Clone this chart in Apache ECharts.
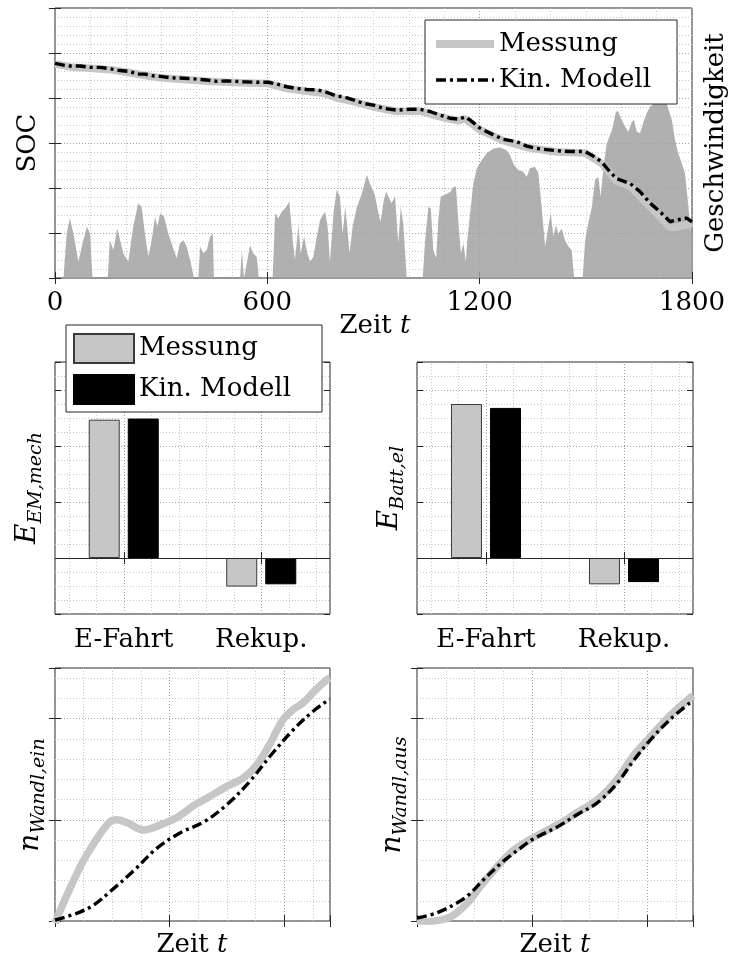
<!DOCTYPE html>
<html>
<head>
<meta charset="utf-8">
<script src="https://cdn.jsdelivr.net/npm/echarts@6/dist/echarts.min.js"></script>
<style>
  html, body { margin: 0; padding: 0; background: #fff; }
  #main { width: 737px; height: 965px; }
</style>
</head>
<body>
<div id="main"></div>
<script>
// ---- data ----
// SOC (left axis) and speed (right axis) over time, top panel
var socTime = [0,24,42,71,99,127,155,184,212,231,254,278,297,325,363,400,429,457,485,532,570,603,626,655,683,711,740,763,777,796,815,843,871,900,928,966,1003,1031,1060,1088,1116,1140,1159,1173,1201,1239,1267,1305,1333,1361,1380,1418,1455,1498,1521,1545,1568,1587,1625,1653,1682,1710,1738,1757,1785,1800];
var socModell = [4.77,4.73,4.71,4.71,4.68,4.68,4.65,4.61,4.59,4.53,4.53,4.49,4.48,4.45,4.44,4.42,4.40,4.37,4.38,4.36,4.35,4.35,4.31,4.25,4.21,4.19,4.18,4.14,4.10,4.04,4.03,3.96,3.88,3.84,3.77,3.73,3.75,3.75,3.70,3.62,3.55,3.53,3.58,3.51,3.33,3.18,3.08,3.03,2.93,2.88,2.86,2.83,2.81,2.81,2.71,2.58,2.36,2.21,2.10,1.92,1.66,1.47,1.25,1.29,1.33,1.25];
var socMessTime = [0,42,99,155,212,254,297,363,429,485,570,603,655,711,763,796,843,900,966,1031,1088,1140,1159,1201,1267,1333,1418,1498,1545,1587,1625,1682,1738,1757,1785,1800];
var socMessung = [4.76,4.69,4.66,4.63,4.56,4.50,4.45,4.41,4.37,4.35,4.33,4.32,4.21,4.15,4.10,4.00,3.92,3.80,3.70,3.71,3.58,3.49,3.54,3.29,3.05,2.90,2.80,2.78,2.54,2.15,2.04,1.58,1.13,1.13,1.18,1.22];

var speedTime = [
  0,24,33,42,52,66,80,90,99,106,
  149,155,165,176,184,193,207,221,235,245,254,264,273,283,289,297,308,320,334,344,353,363,372,382,393,
  405,410,419,429,438,446,449,
  523,528,534,542,551,560,570,576,
  615,622,631,641,653,662,672,678,688,694,704,713,721,730,738,749,763,770,777,787,796,805,813,820,826,832,841,853,867,881,890,904,914,920,929,936,942,951,961,970,977,984,994,
  1039,1046,1055,1062,1069,1077,1083,1090,1099,1109,1118,1126,1133,1140,1147,1154,1161,1165,1173,1182,1192,1206,1220,1239,1258,1276,1286,1297,1309,1323,1333,1342,1356,1366,1375,1385,1394,1401,1408,1416,1422,1432,1441,1451,1460,1467,
  1491,1498,1507,1517,1526,1535,1542,1550,1559,1574,1585,1592,1599,1611,1620,1630,1636,1644,1653,1663,1672,1682,1691,1710,1729,1743,1752,1761,1771,1780,1787,1795,1800
];
var speedValue = [
  0,0,0.99,1.33,0.99,0.36,0.84,1.14,0.99,0,
  0,0.84,0.62,1.10,0.84,0.55,0.36,1.14,1.66,1.58,0.99,0.47,0.84,1.36,1.14,1.44,1.36,0.99,0.66,0.44,0.77,0.84,0.70,0.40,0,
  0,0.70,0.55,0.62,0.92,0.99,0,
  0,0.62,0,0.33,0.73,0.55,0.47,0,
  0,1.44,1.33,1.47,1.58,1.70,0.84,0.40,1.18,0.55,0.92,0.55,0.36,0.47,0.84,1.29,1.47,1.18,0.36,1.44,1.96,1.81,0.99,1.58,1.14,0.55,1.14,1.58,1.88,2.29,2.10,1.84,1.44,1.25,1.73,1.92,1.81,1.66,1.81,0.77,1.58,1.22,0,
  0,0.84,1.58,1.55,0.62,0.44,1.29,1.81,1.84,1.88,1.92,2.03,2.03,1.22,0.55,0.77,0.36,0.84,1.44,2.10,2.44,2.62,2.77,2.88,2.90,2.84,2.73,2.51,2.40,2.36,2.25,2.44,2.47,2.33,1.58,0.70,1.14,1.44,0.92,1.18,0.99,1.10,0.84,0.70,0.62,0,
  0,0.84,1.22,1.58,2.18,2.25,1.81,2.47,2.99,3.29,3.70,3.70,3.55,3.36,3.25,3.47,3.51,3.25,3.22,3.47,3.66,3.81,3.86,3.90,3.86,3.51,3.07,2.77,2.55,2.33,1.81,1.14,0.92
];

// energy bars, middle panels
var barCategories = ['E-Fahrt', 'Rekup.'];
var emMessung = [2.47, -0.51];
var emModell = [2.49, -0.47];
var battMessung = [2.75, -0.47];
var battModell = [2.68, -0.43];

// converter speeds, bottom panels
var einMessTime = [0,0.11,0.25,0.40,0.48,0.54,0.63,0.77,0.92,1.06,1.21,1.35,1.50,1.64,1.76,1.88,1.99,2.08,2.17,2.28,2.38,2.40];
var einMessung = [-0.02,0.27,0.60,0.87,0.98,1.00,0.97,0.90,0.95,1.02,1.14,1.23,1.33,1.41,1.54,1.76,1.99,2.09,2.16,2.29,2.39,2.40];
var einModTime = [0,0.20,0.34,0.48,0.69,0.89,1.09,1.30,1.50,1.70,1.90,2.08,2.25,2.38,2.40];
var einModell = [0.01,0.08,0.16,0.29,0.50,0.72,0.87,0.98,1.15,1.38,1.66,1.89,2.07,2.18,2.19];
var ausMessTime = [0,0.15,0.29,0.44,0.55,0.70,0.84,0.99,1.22,1.39,1.57,1.74,1.88,2.03,2.20,2.39,2.40];
var ausMessung = [-0.02,0.00,0.04,0.18,0.34,0.54,0.70,0.81,0.95,1.07,1.20,1.40,1.63,1.82,2.03,2.22,2.23];
var ausModTime = [0,0.17,0.35,0.46,0.58,0.75,0.90,1.01,1.22,1.39,1.57,1.74,1.88,2.03,2.20,2.40];
var ausModell = [0.03,0.08,0.18,0.27,0.41,0.59,0.72,0.81,0.93,1.05,1.17,1.36,1.58,1.79,1.99,2.18];

// ---- style ----
var FONT = 'DejaVu Serif';
var FS = 26;
var FRAME = '#262626';
var GRAY = '#c6c6c6';
var MAJOR = {color: '#a0a0a0', width: 1, type: [1, 2]};
var MINOR = {color: '#c8c8c8', width: 1, type: [1, 2]};
var DASHDOT = [10, 4, 3, 4];

function pairs(xs, ys) {
  return xs.map(function (x, i) { return [x, ys[i]]; });
}

// hidden axis, only draws the minor grid
function minorAxis(gi, pos, min, max, step) {
  return {
    gridIndex: gi, type: 'value', position: pos, min: min, max: max, interval: step,
    axisLine: {show: false}, axisTick: {show: false}, axisLabel: {show: false},
    splitLine: {show: true, lineStyle: MINOR}
  };
}
// frame axis: inward ticks, optional major grid
function tickAxis(gi, pos, min, max, step, grid) {
  return {
    gridIndex: gi, type: 'value', position: pos, min: min, max: max, interval: step,
    axisLine: {show: false},
    axisTick: {show: true, inside: true, length: 6, lineStyle: {color: FRAME}},
    axisLabel: {show: false},
    splitLine: {show: !!grid, lineStyle: MAJOR}
  };
}
function catAxis(gi, pos, labels) {
  return {
    gridIndex: gi, type: 'category', position: pos, data: barCategories,
    axisLine: {show: false},
    axisTick: {show: true, inside: true, length: 6, alignWithLabel: true, lineStyle: {color: FRAME}},
    axisLabel: {show: labels, fontFamily: FONT, fontSize: FS, color: '#000', margin: 13},
    splitLine: {show: false}
  };
}

var gridBox = {show: true, borderColor: FRAME, borderWidth: 1, backgroundColor: 'transparent', outerBoundsMode: 'none'};
var grids = [
  {left: 55, top: 8, width: 637, height: 270},
  {left: 55, top: 362, width: 275, height: 252},
  {left: 417, top: 362, width: 276, height: 252},
  {left: 55, top: 668, width: 275, height: 253},
  {left: 417, top: 668, width: 276, height: 253}
].map(function (g) { return Object.assign({}, gridBox, g); });

var topX = tickAxis(0, 'bottom', 0, 1800, 600, true);
topX.axisLabel = {show: true, fontFamily: FONT, fontSize: FS, color: '#000', margin: 12,
  showMinLabel: true, showMaxLabel: true, formatter: function (v) { return String(v); }};

var xAxes = [
  minorAxis(0, 'bottom', 0, 1800, 100),          // 0
  topX,                                          // 1
  tickAxis(0, 'top', 0, 1800, 600),              // 2
  {gridIndex: 1, type: 'value', min: 0.5, max: 2.5, show: false}, // 3
  catAxis(1, 'bottom', true),                    // 4
  catAxis(1, 'top', false),                      // 5
  {gridIndex: 2, type: 'value', min: 0.5, max: 2.5, show: false}, // 6
  catAxis(2, 'bottom', true),                    // 7
  catAxis(2, 'top', false),                      // 8
  minorAxis(3, 'bottom', 0, 2.4, 0.25),          // 9
  tickAxis(3, 'bottom', 0, 2.4, 1, true),        // 10
  tickAxis(3, 'top', 0, 2.4, 1),                 // 11
  minorAxis(4, 'bottom', 0, 2.4, 0.25),          // 12
  tickAxis(4, 'bottom', 0, 2.4, 1, true),        // 13
  tickAxis(4, 'top', 0, 2.4, 1)                  // 14
];
var yAxes = [
  minorAxis(0, 'left', 0, 6, 0.2),               // 0
  tickAxis(0, 'left', 0, 6, 1, true),            // 1 SOC
  tickAxis(0, 'right', 0, 6, 1),                 // 2 speed
  minorAxis(1, 'left', -1, 3.5, 0.25),           // 3
  tickAxis(1, 'left', -1, 3.5, 1, true),         // 4
  tickAxis(1, 'right', -1, 3.5, 1),              // 5
  minorAxis(2, 'left', -1, 3.5, 0.25),           // 6
  tickAxis(2, 'left', -1, 3.5, 1, true),         // 7
  tickAxis(2, 'right', -1, 3.5, 1),              // 8
  minorAxis(3, 'left', 0, 2.5, 0.2),             // 9
  tickAxis(3, 'left', 0, 2.5, 1, true),          // 10
  tickAxis(3, 'right', 0, 2.5, 1),               // 11
  minorAxis(4, 'left', 0, 2.5, 0.2),             // 12
  tickAxis(4, 'left', 0, 2.5, 1, true),          // 13
  tickAxis(4, 'right', 0, 2.5, 1)                // 14
];

// vertical grid of the bar panels (majors under the categories)
var barGridLines = [];
for (var k = 0; k < 10; k++) {
  barGridLines.push({xAxis: +(0.6 + 0.2 * k).toFixed(1), lineStyle: MINOR});
}
barGridLines.push({xAxis: 1, lineStyle: MAJOR}, {xAxis: 2, lineStyle: MAJOR});

function gridLineSeries(xi, yi) {
  return {
    type: 'line', xAxisIndex: xi, yAxisIndex: yi, data: [], silent: true, z: 0,
    markLine: {silent: true, symbol: 'none', label: {show: false}, animation: false, z: 0, data: barGridLines}
  };
}
function barSeries(name, xi, yi, values, color, zeroLine) {
  var s = {
    name: name, type: 'bar', xAxisIndex: xi, yAxisIndex: yi, data: values,
    barWidth: 31, barGap: '26%', z: 3,
    itemStyle: {color: color, borderColor: color === '#000' ? '#000' : '#3a3a3a', borderWidth: 1}
  };
  if (zeroLine) {
    s.markLine = {silent: true, symbol: 'none', label: {show: false}, z: 5,
      lineStyle: {color: FRAME, width: 1, type: 'solid'}, data: [{yAxis: 0}]};
  }
  return s;
}
function messLine(xi, yi, data, smooth) {
  return {name: 'Messung', type: 'line', xAxisIndex: xi, yAxisIndex: yi, data: data, smooth: smooth,
    symbol: 'none', lineStyle: {color: GRAY, width: 7.5}, itemStyle: {color: GRAY}};
}
function modLine(xi, yi, data, smooth) {
  return {name: 'Kin. Modell', type: 'line', xAxisIndex: xi, yAxisIndex: yi, data: data, smooth: smooth,
    symbol: 'none', lineStyle: {color: '#000', width: 3.4, type: DASHDOT}, itemStyle: {color: '#000'}};
}

var series = [
  {type: 'line', xAxisIndex: 1, yAxisIndex: 2, data: pairs(speedTime, speedValue), symbol: 'none', silent: true,
    lineStyle: {width: 0}, areaStyle: {color: '#a2a2a2', opacity: 0.85}},
  messLine(1, 1, pairs(socMessTime, socMessung), false),
  modLine(1, 1, pairs(socTime, socModell), false),

  gridLineSeries(3, 4),
  barSeries('bar:Messung', 4, 4, emMessung, GRAY, true),
  barSeries('bar:Kin. Modell', 4, 4, emModell, '#000', false),
  gridLineSeries(6, 7),
  barSeries('bar:Messung', 7, 7, battMessung, GRAY, true),
  barSeries('bar:Kin. Modell', 7, 7, battModell, '#000', false),

  messLine(10, 10, pairs(einMessTime, einMessung), 0.35),
  modLine(10, 10, pairs(einModTime, einModell), 0.35),
  messLine(13, 13, pairs(ausMessTime, ausMessung), 0.35),
  modLine(13, 13, pairs(ausModTime, ausModell), 0.35)
];

var legendText = {fontFamily: FONT, fontSize: FS, color: '#000'};
var legends = [
  {
    left: 425, top: 20, orient: 'vertical',
    data: [
      {name: 'Messung', lineStyle: {color: GRAY, width: 8}},
      {name: 'Kin. Modell', lineStyle: {color: '#000', width: 3.4, type: DASHDOT}}
    ],
    itemStyle: {opacity: 0},
    itemWidth: 58, itemHeight: 26, itemGap: 10, padding: [11, 8, 11, 7],
    backgroundColor: '#fff', borderColor: FRAME, borderWidth: 1, borderRadius: 0,
    textStyle: Object.assign({width: 170, lineHeight: 26}, legendText)
  },
  {
    left: 66, top: 325, orient: 'vertical', data: ['bar:Messung', 'bar:Kin. Modell'], icon: 'rect',
    formatter: function (n) { return n.replace('bar:', ''); },
    itemWidth: 60, itemHeight: 29, itemGap: 10, padding: [8, 12, 7, 7],
    backgroundColor: '#fff', borderColor: FRAME, borderWidth: 1, borderRadius: 0,
    textStyle: Object.assign({width: 171, lineHeight: 29}, legendText)
  }
];

// axis titles as text
function plainText(x, y, str, rotate) {
  return {type: 'text', x: x, y: y, rotation: rotate ? Math.PI / 2 : 0,
    style: {text: str, fontFamily: FONT, fontSize: FS, fill: '#000', align: 'center', verticalAlign: 'middle'}};
}
function zeitText(x, y) {
  return {type: 'text', x: x, y: y,
    style: {text: '{a|Zeit }{b|t}', align: 'center', verticalAlign: 'middle',
      rich: {a: {fontFamily: FONT, fontSize: FS, fill: '#000'},
             b: {fontFamily: FONT, fontSize: FS, fontStyle: 'italic', fill: '#000'}}}};
}
// symbol with a lowered subscript, written bottom to top
function symbolText(x, y, main, sub) {
  return {type: 'text', x: x, y: y, rotation: Math.PI / 2,
    style: {text: '{m|' + main + '}{s|' + sub + '}', align: 'center', verticalAlign: 'middle',
      rich: {
        m: {fontFamily: FONT, fontSize: 28, fontStyle: 'italic', fill: '#000', verticalAlign: 'top'},
        s: {fontFamily: FONT, fontSize: 19, fontStyle: 'italic', fill: '#000', verticalAlign: 'top', padding: [13, 0, 0, 0]}
      }}};
}

var graphics = [
  plainText(28, 143, 'SOC', true),
  plainText(716, 143, 'Geschwindigkeit', true),
  zeitText(375, 326),
  symbolText(30, 488, 'E', 'EM,mech'),
  symbolText(392, 488, 'E', 'Batt,el'),
  symbolText(33, 795, 'n', 'Wandl,ein'),
  symbolText(395, 795, 'n', 'Wandl,aus'),
  zeitText(192, 945),
  zeitText(555, 945)
];

var chart = echarts.init(document.getElementById('main'), null, {renderer: 'canvas'});
chart.setOption({
  animation: false,
  backgroundColor: '#fff',
  grid: grids,
  xAxis: xAxes,
  yAxis: yAxes,
  legend: legends,
  series: series,
  graphic: graphics
});
</script>
</body>
</html>
